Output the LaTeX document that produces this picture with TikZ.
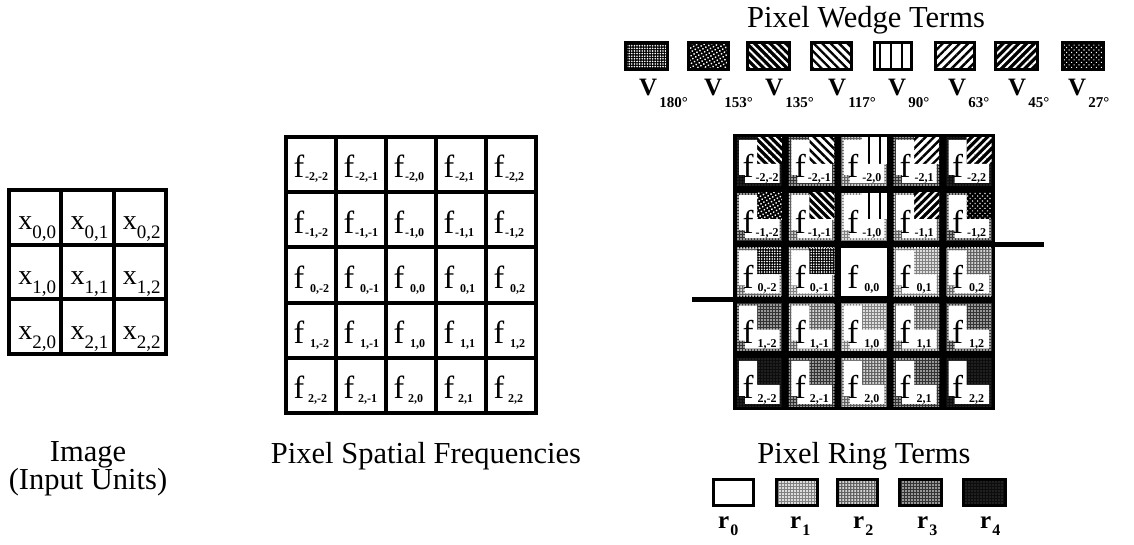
\documentclass[tikz,border=0pt]{standalone}
\usepackage{fontspec}
\setmainfont{Liberation Serif}
\usetikzlibrary{patterns.meta}
\tikzset{
  ringstyle/.style 2 args={fill=black!#1, postaction={pattern={Dots[radius=#2,distance=3pt]}, pattern color=white}},
  rA/.style={fill=white},
  rB/.style={ringstyle={50}{1.15pt}},
  rC/.style={ringstyle={62}{1pt}},
  rD/.style={ringstyle={80}{0.8pt}},
  rE/.style={ringstyle={95}{0.45pt}},
  wA/.style={fill=black, postaction={pattern={Dots[radius=0.9pt,distance=2.6pt]}, pattern color=white}},
  wB/.style={fill=black, postaction={pattern={Dots[radius=1pt,distance=3.4pt,angle=30]}, pattern color=white}},
  wC/.style={fill=black, postaction={pattern={Lines[angle=-45,distance=5.5pt,line width=2pt]}, pattern color=white}},
  wD/.style={fill=white, postaction={pattern={Lines[angle=-45,distance=6pt,line width=2.4pt]}, pattern color=black}},
  wE/.style={fill=white, postaction={pattern={Lines[angle=90,distance=11pt,line width=2.6pt]}, pattern color=black}},
  wF/.style={fill=white, postaction={pattern={Lines[angle=45,distance=6pt,line width=2.4pt]}, pattern color=black}},
  wG/.style={fill=black, postaction={pattern={Lines[angle=45,distance=5.5pt,line width=2pt]}, pattern color=white}},
  wH/.style={fill=black, postaction={pattern={Dots[radius=0.8pt,distance=3.5pt,angle=45]}, pattern color=white}},
  swatchframe/.style={draw=black, line width=3pt},
  title/.style={font=\fontsize{30.5}{26}\selectfont, inner sep=0pt, anchor=base},
  xlab/.style={font=\fontsize{28}{28}\selectfont, inner sep=0pt, anchor=base},
  fmid/.style={font=\fontsize{32}{32}\selectfont, inner sep=0pt, anchor=base},
  smid/.style={font=\bfseries\fontsize{12}{12}\selectfont, inner sep=0pt, anchor=base west},
  fR/.style={font=\fontsize{33}{33}\selectfont, inner sep=0pt, anchor=base},
  sR/.style={font=\bfseries\fontsize{12}{12}\selectfont, inner sep=0pt, anchor=base},
  vlab/.style={font=\bfseries\fontsize{25}{25}\selectfont, inner sep=0pt, anchor=base west},
  gridline/.style={line width=4pt},
  stub/.style={line width=5pt},
}
\newcommand\rcell[5]{%
  \pgfmathsetmacro\rcX{733+#1*52.4}%
  \pgfmathsetmacro\rcY{134+#2*55.2}%
  \path[#3] (\rcX+3.5,\rcY+3.5) rectangle (\rcX+48.9,\rcY+51.7);
  \path[#4] (\rcX+24,\rcY+3.5) rectangle (\rcX+48.9,\rcY+30);
  \fill[white] (\rcX+6,\rcY+6) -- (\rcX+24,\rcY+6) -- (\rcX+24,\rcY+30) -- (\rcX+46.5,\rcY+30)
     -- (\rcX+46.5,\rcY+49) -- (\rcX+12,\rcY+49) -- (\rcX+12,\rcY+41) -- (\rcX+6,\rcY+41) -- cycle;
  \node[fR] (rf#1#2) at (\rcX+15,\rcY+44) {f};
  \node[sR] (rs#1#2) at (\rcX+34,\rcY+47.5) {#5};
}
\begin{document}
\begin{tikzpicture}[x=1pt,y=-1pt]
\useasboundingbox (0,0) rectangle (1134,545);

% ---------- left grid
\foreach \r in {0,1,2}{
  \foreach \c in {0,1,2}{
    \node[xlab] (x\r\c) at ({9+52.3*(\c+0.5)+2},{190+54.7*\r+40})
      {x\raisebox{-9pt}{\fontsize{19}{19}\selectfont\r,\c}};
  }
}
\draw[gridline] (9,190) rectangle (166,354);
\foreach \i in {1,2}{
  \draw[gridline] ({9+52.3*\i},190) -- ({9+52.3*\i},354);
  \draw[gridline] (9,{190+54.7*\i}) -- (166,{190+54.7*\i});
}
\node[title, align=center, anchor=north] (imglab) at (88,441) {Image\\(Input Units)};

% ---------- middle grid
\draw[gridline] (286,137) rectangle (536,413);
\foreach \i in {1,...,4}{
  \draw[gridline] ({286+50*\i},137) -- ({286+50*\i},413);
  \draw[gridline] (286,{137+55.2*\i}) -- (536,{137+55.2*\i});
}
\foreach \s [count=\k from 0] in {-2{,}-2,-2{,}-1,-2{,}0,-2{,}1,-2{,}2}{
  \node[fmid] (mf0\k) at ({286+50*\k+13},{137+41}) {f};
  \node[smid] (ms0\k) at ({286+50*\k+19},{137+44}) {\s};
}
\foreach \s [count=\k from 0] in {-1{,}-2,-1{,}-1,-1{,}0,-1{,}1,-1{,}2}{
  \node[fmid] (mf1\k) at ({286+50*\k+13},{137+55.2+41}) {f};
  \node[smid] (ms1\k) at ({286+50*\k+19},{137+55.2+44}) {\s};
}
\foreach \s [count=\k from 0] in {0{,}-2,0{,}-1,0{,}0,0{,}1,0{,}2}{
  \node[fmid] (mf2\k) at ({286+50*\k+13},{137+2*55.2+41}) {f};
  \node[smid] (ms2\k) at ({286+50*\k+24},{137+2*55.2+45}) {\s};
}
\foreach \s [count=\k from 0] in {1{,}-2,1{,}-1,1{,}0,1{,}1,1{,}2}{
  \node[fmid] (mf3\k) at ({286+50*\k+13},{137+3*55.2+41}) {f};
  \node[smid] (ms3\k) at ({286+50*\k+24},{137+3*55.2+45}) {\s};
}
\foreach \s [count=\k from 0] in {2{,}-2,2{,}-1,2{,}0,2{,}1,2{,}2}{
  \node[fmid] (mf4\k) at ({286+50*\k+13},{137+4*55.2+41}) {f};
  \node[smid] (ms4\k) at ({286+50*\k+22},{137+4*55.2+45}) {\s};
}
\node[title] (midlab) at (426,463) {Pixel Spatial Frequencies};

% ---------- right grid
\fill[black] (733,134) rectangle (995,410);
\rcell{0}{0}{rE}{wC}{-2,-2}
\rcell{1}{0}{rD}{wD}{-2,-1}
\rcell{2}{0}{rC}{wE}{-2,0}
\rcell{3}{0}{rD}{wF}{-2,1}
\rcell{4}{0}{rE}{wG}{-2,2}
\rcell{0}{1}{rD}{wB}{-1,-2}
\rcell{1}{1}{rC}{wC}{-1,-1}
\rcell{2}{1}{rB}{wE}{-1,0}
\rcell{3}{1}{rC}{wG}{-1,1}
\rcell{4}{1}{rD}{wH}{-1,2}
\rcell{0}{2}{rC}{wA}{0,-2}
\rcell{1}{2}{rB}{wA}{0,-1}
\rcell{2}{2}{rA}{rA}{0,0}
\rcell{3}{2}{rB}{rB}{0,1}
\rcell{4}{2}{rC}{rC}{0,2}
\rcell{0}{3}{rD}{rD}{1,-2}
\rcell{1}{3}{rC}{rC}{1,-1}
\rcell{2}{3}{rB}{rB}{1,0}
\rcell{3}{3}{rC}{rC}{1,1}
\rcell{4}{3}{rD}{rD}{1,2}
\rcell{0}{4}{rE}{rE}{2,-2}
\rcell{1}{4}{rD}{rD}{2,-1}
\rcell{2}{4}{rC}{rC}{2,0}
\rcell{3}{4}{rD}{rD}{2,1}
\rcell{4}{4}{rE}{rE}{2,2}
\coordinate (stubL) at (692,299.6);
\coordinate (gridL) at (735,299.6);
\coordinate (gridR) at (993,244.4);
\coordinate (stubR) at (1044,244.4);
\draw[stub] (stubL) -- (gridL);
\draw[stub] (gridR) -- (stubR);

% ---------- wedge legend
\node[title] (wedgetitle) at (866,28) {Pixel Wedge Terms};
\foreach \xa/\xb/\st [count=\k] in {625/667/wA,688/728/wB,747/789/wC,811/851/wD,874/911/wE,935/974/wF,995/1037/wG,1062/1103/wH}{
  \path[\st] (\xa,43) rectangle (\xb,70);
  \draw[swatchframe] (\xa,43) rectangle (\xb,70);
}
\foreach \xl/\ang [count=\k] in {639/180,704/153,765/135,828/117,888/90,948/63,1008/45,1068/27}{
  \node[vlab] (v\k) at (\xl,96) {V\hspace{2pt}\raisebox{-12pt}{\fontsize{15}{15}\selectfont\ang°}};
}

% ---------- ring legend
\node[title] (ringtitle) at (864,463) {Pixel Ring Terms};
\foreach \xa/\xb/\st [count=\k] in {713/753/rA,776/817/rB,837/877/rC,899/941/rD,963/1005/rE}{
  \path[\st] (\xa,479) rectangle (\xb,505);
  \draw[swatchframe] (\xa,479) rectangle (\xb,505);
}
\foreach \xl [count=\k from 0] in {718,790,853,917,980}{
  \node[vlab, font=\bfseries\fontsize{25}{25}\selectfont] (r\k) at (\xl,528) {r\hspace{1pt}\raisebox{-7pt}{\fontsize{16}{16}\selectfont\k}};
}
\end{tikzpicture}
\end{document}
